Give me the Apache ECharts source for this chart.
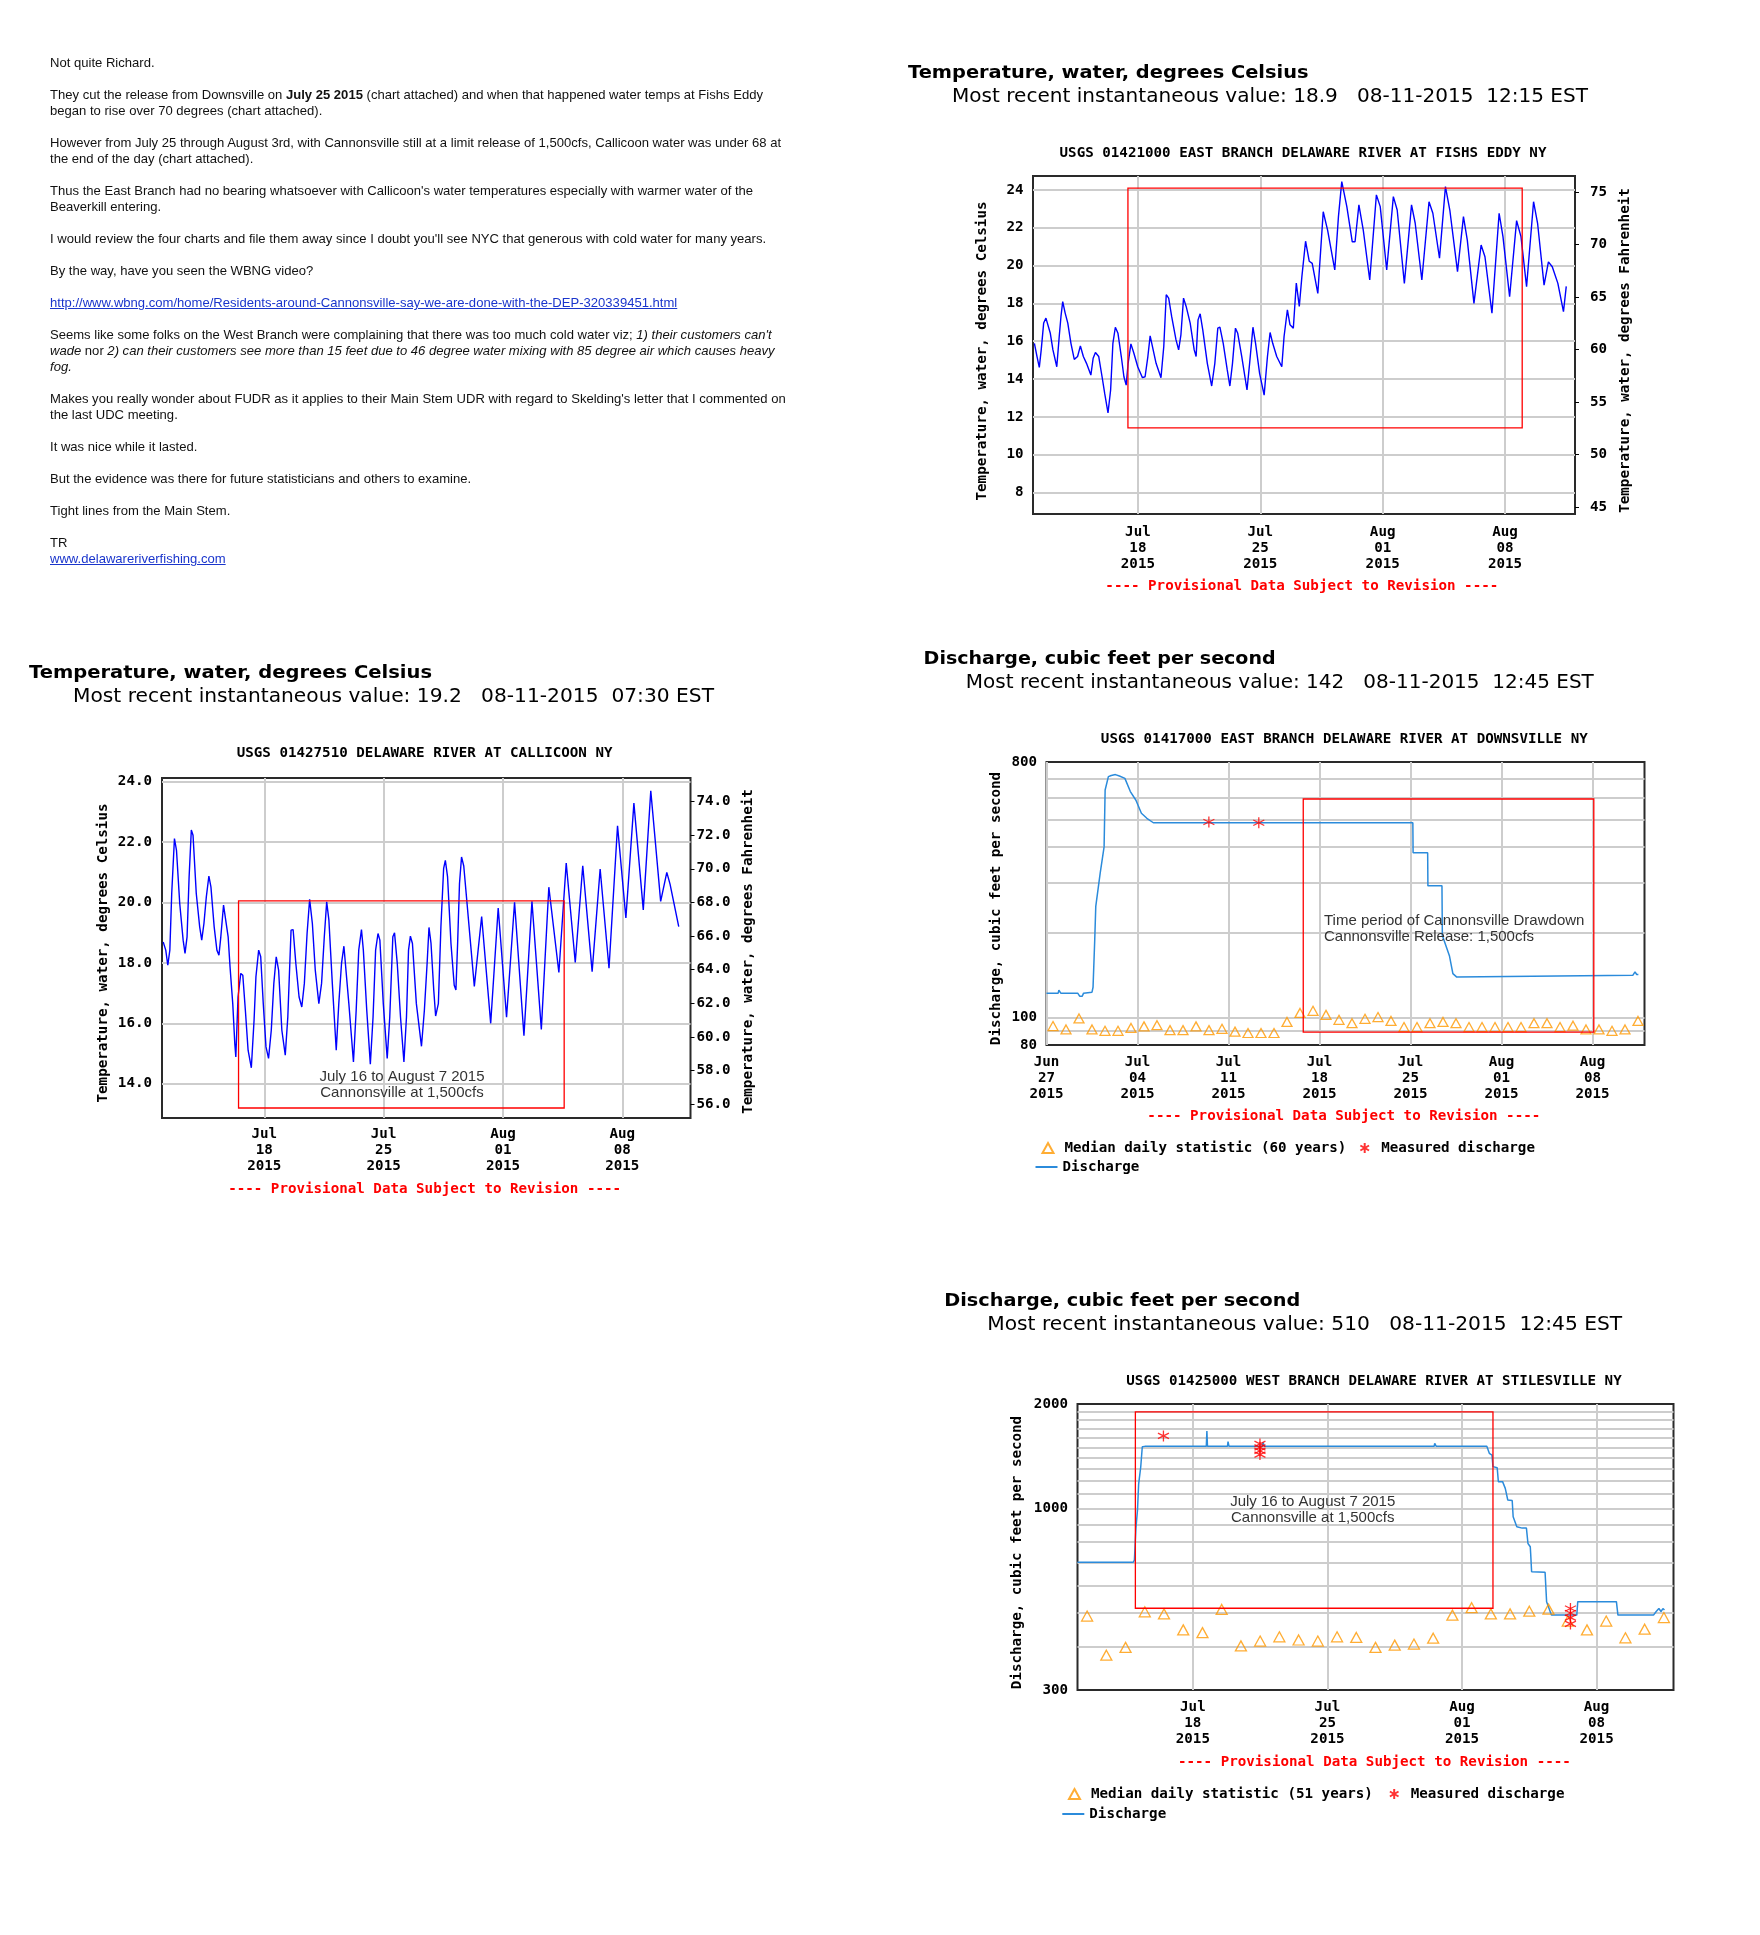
<!DOCTYPE html>
<html><head><meta charset="utf-8">
<script src="https://cdn.jsdelivr.net/npm/echarts@6/dist/echarts.min.js"></script>
<style>
html,body{margin:0;padding:0;background:#fff;overflow:hidden;width:1760px;height:1935px;}
#chart{position:absolute;left:0;top:0;width:1760px;height:1935px;}
#mail{position:absolute;left:50px;top:55px;font-family:"Liberation Sans",Arial,sans-serif;font-size:13px;line-height:16px;color:#111;transform-origin:0 0;z-index:5;}
#mail div{height:16px;white-space:pre;}
#mail a{color:#1a35cc;text-decoration:underline;}
</style></head><body>
<div id="chart"></div>
<div id="mail"><div>Not quite Richard.</div><div></div><div>They cut the release from Downsville on <b>July 25 2015</b> (chart attached) and when that happened water temps at Fishs Eddy</div><div>began to rise over 70 degrees (chart attached).</div><div></div><div>However from July 25 through August 3rd, with Cannonsville still at a limit release of 1,500cfs, Callicoon water was under 68 at</div><div>the end of the day (chart attached).</div><div></div><div>Thus the East Branch had no bearing whatsoever with Callicoon's water temperatures especially with warmer water of the</div><div>Beaverkill entering.</div><div></div><div>I would review the four charts and file them away since I doubt you'll see NYC that generous with cold water for many years.</div><div></div><div>By the way, have you seen the WBNG video?</div><div></div><div><a>http://www.wbng.com/home/Residents-around-Cannonsville-say-we-are-done-with-the-DEP-320339451.html</a></div><div></div><div>Seems like some folks on the West Branch were complaining that there was too much cold water viz; <i>1) their customers can't</i></div><div><i>wade</i> nor <i>2) can their customers see more than 15 feet due to 46 degree water mixing with 85 degree air which causes heavy</i></div><div><i>fog.</i></div><div></div><div id="refline">Makes you really wonder about FUDR as it applies to their Main Stem UDR with regard to Skelding's letter that I commented on</div><div>the last UDC meeting.</div><div></div><div>It was nice while it lasted.</div><div></div><div>But the evidence was there for future statisticians and others to examine.</div><div></div><div>Tight lines from the Main Stem.</div><div></div><div>TR</div><div><a>www.delawareriverfishing.com</a></div></div>
<script>
// ---------------- DATA ----------------
// Fishs Eddy water temperature: [days after 2015-07-12 00:00, deg C]
const fishsEddyTemp = [
[0.08,15.89],[0.23,15.19],[0.36,14.62],[0.47,15.54],[0.61,16.96],[0.74,17.22],[0.83,17.17],[0.99,16.42],[1.14,15.54],[1.36,14.65],
[1.5,16.25],[1.6,17.31],[1.7,18.1],[1.84,17.49],[1.99,16.96],[2.17,15.89],[2.36,15.04],[2.55,15.19],[2.71,15.75],[2.88,15.19],
[3.06,14.83],[3.31,14.21],[3.44,15.1],[3.57,15.4],[3.76,15.19],[3.95,14.12],[4.1,13.24],[4.29,12.21],[4.44,13.42],[4.57,15.89],
[4.71,16.74],[4.86,16.42],[5.05,15.19],[5.2,14.12],[5.33,13.68],[5.44,14.83],[5.6,15.86],[5.77,15.36],[5.99,14.65],[6.26,14.07],
[6.41,14.12],[6.57,15.19],[6.7,16.28],[6.79,16.25],[7.04,14.83],[7.32,14.07],[7.48,15.72],[7.62,18.46],[7.76,18.28],[7.93,17.31],
[8.18,16.07],[8.33,15.54],[8.46,16.34],[8.61,18.28],[8.76,17.84],[8.99,16.96],[9.22,15.54],[9.33,15.19],[9.44,17.13],[9.56,17.45],
[9.71,16.6],[9.97,14.83],[10.22,13.63],[10.4,14.83],[10.57,16.69],[10.69,16.74],[10.88,15.89],[11.11,14.48],[11.26,13.63],[11.41,14.83],
[11.58,16.69],[11.71,16.42],[11.94,15.19],[12.24,13.42],[12.39,14.83],[12.58,16.74],[12.73,15.89],[12.96,14.3],[13.22,13.15],[13.41,15.19],
[13.56,16.46],[13.71,15.89],[13.94,15.19],[14.23,14.65],[14.36,16.25],[14.55,17.66],[14.7,16.87],[14.89,16.69],[15.06,19.08],[15.23,17.84],
[15.38,19.43],[15.59,21.29],[15.8,20.23],[15.97,20.12],[16.29,18.53],[16.6,22.85],[16.85,21.88],[17.26,19.77],[17.47,22.59],[17.66,24.44],
[17.95,23.12],[18.26,21.26],[18.42,21.26],[18.64,23.21],[18.89,21.88],[19.26,19.24],[19.64,23.74],[19.86,23.12],[20.23,19.77],[20.61,23.65],
[20.83,22.94],[21.24,19.06],[21.65,23.21],[21.86,22.24],[22.24,19.24],[22.65,23.38],[22.87,22.77],[23.25,20.39],[23.59,24.18],[23.84,22.94],
[24.28,19.68],[24.62,22.59],[24.84,21.35],[25.22,18.0],[25.63,21.09],[25.85,20.47],[26.25,17.48],[26.66,22.77],[26.88,21.53],[27.26,18.35],
[27.66,22.38],[27.91,21.53],[28.23,18.88],[28.63,23.38],[28.86,22.24],[29.23,18.97],[29.48,20.2],[29.7,19.94],[30.02,19.06],[30.34,17.56],[30.5,18.9]
];
// Callicoon water temperature: [days after 2015-07-12 00:00, deg C]
const callicoonTemp = [
[0.07,18.69],[0.22,18.42],[0.34,17.92],[0.46,18.42],[0.57,20.29],[0.73,22.11],[0.85,21.72],[1.04,19.96],[1.24,18.75],[1.35,18.31],
[1.47,18.86],[1.59,20.84],[1.72,22.39],[1.82,22.22],[2.01,20.29],[2.21,19.19],[2.33,18.75],[2.46,19.3],[2.6,20.18],[2.75,20.87],
[2.87,20.51],[3.06,19.19],[3.22,18.42],[3.34,18.25],[3.45,18.86],[3.61,19.91],[3.72,19.85],[3.88,18.86],[3.99,17.87],[4.15,16.65],
[4.27,15.33],[4.33,14.89],[4.46,16.87],[4.62,17.65],[4.74,17.59],[4.89,16.43],[5.05,15.11],[5.24,14.53],[5.4,16.1],[5.51,17.54],
[5.67,18.42],[5.79,18.2],[5.94,16.65],[6.1,15.22],[6.25,14.84],[6.41,15.77],[6.56,17.32],[6.7,18.2],[6.84,17.76],[7.03,15.77],
[7.23,14.95],[7.38,16.21],[7.57,19.08],[7.69,19.1],[7.85,17.98],[8.04,16.87],[8.2,16.54],[8.35,17.32],[8.51,18.97],[8.66,20.1],
[8.82,19.3],[8.99,17.76],[9.2,16.65],[9.36,17.32],[9.52,18.86],[9.66,20.02],[9.79,19.41],[9.99,17.32],[10.22,15.11],[10.37,16.65],
[10.53,17.98],[10.67,18.55],[10.76,18.51],[10.96,16.65],[11.23,14.72],[11.39,16.43],[11.54,18.42],[11.7,19.1],[11.81,18.42],[12.01,16.43],
[12.22,14.65],[12.38,16.21],[12.53,18.42],[12.67,18.97],[12.78,18.75],[12.98,16.65],[13.21,14.84],[13.36,16.21],[13.54,18.86],[13.64,18.99],
[13.8,17.98],[13.99,16.21],[14.19,14.72],[14.34,16.21],[14.46,18.42],[14.57,18.88],[14.69,18.64],[14.92,16.65],[15.22,15.24],[15.39,16.43],
[15.55,17.98],[15.66,19.17],[15.78,18.64],[15.94,17.1],[16.05,16.24],[16.21,16.65],[16.36,19.19],[16.52,21.12],[16.62,21.39],[16.75,20.84],
[16.95,18.64],[17.14,17.26],[17.24,17.1],[17.34,18.64],[17.45,20.62],[17.57,21.5],[17.7,21.2],
[18.32,17.22],[18.75,19.53],[19.28,16.0],[19.72,19.81],[20.21,16.2],[20.68,20.0],[21.23,15.59],[21.7,20.03],[22.25,15.8],
[22.69,20.5],[23.28,17.68],[23.71,21.3],[24.24,18.01],[24.68,21.21],[25.23,17.71],[25.7,21.1],[26.22,17.82],[26.72,22.53],
[27.21,19.48],[27.68,23.28],[28.23,19.75],[28.67,23.69],[29.25,20.03],[29.61,20.99],[29.8,20.6],[30.31,19.2]
];
// Downsville discharge: [days after 2015-06-27 00:00, cfs]
const downsvilleFlow = [
[0,122],[0.9,122],[0.95,125],[1.1,122],[2.4,122],[2.55,119],[2.75,119],[2.85,122],[3.5,123],[3.58,128],
[3.71,188],[3.79,247],[4.13,324],[4.43,401],[4.51,637],[4.76,710],[4.98,717],[5.3,722],[5.61,714],[6.03,700],
[6.45,629],[6.88,586],[7.3,527],[7.72,506],[8.22,488],[28.18,488],[28.2,382],[29.32,382],[29.34,292],[30.42,292],
[30.45,195],[31.0,165],[31.26,143],[31.56,139],[31.65,141],[45.1,141],[45.27,145],[45.4,142],[45.53,142]
];
const downsvilleMeasured = [[12.49,491],[16.33,488]];
// median daily statistic (60 years), one value per day from 2015-06-27
const downsvilleMedian = [93.3,90.8,99.3,90.8,89.8,89.8,91.9,93.1,94.0,90.3,90.3,93.1,90.3,91.3,89.2,88.2,88.2,88.2,96.5,103.8,
105.7,102.2,98.2,95.5,99.0,100.4,97.3,92.6,92.6,95.5,96.5,95.5,92.6,92.6,92.6,92.6,92.6,95.5,95.5,92.6,93.6,90.8,90.8,89.8,90.8,97.3];
// Stilesville discharge: [days after 2015-07-12 00:00, cfs]
const stilesvilleFlow = [
[0,700],[0.85,700],[0.89,708],[0.93,700],[1.55,700],[1.58,708],[1.62,700],[2.37,700],[2.4,708],[2.44,700],
[2.9,700],[2.96,710],[3.04,878],[3.12,989],[3.18,1176],[3.29,1319],[3.37,1506],[3.5,1510],[6.7,1510],[6.73,1673],
[6.76,1510],[7.8,1510],[7.83,1558],[7.88,1510],[9.62,1510],[9.65,1550],[9.72,1510],[14.22,1510],[14.25,1529],[14.32,1510],
[18.55,1510],[18.58,1540],[18.66,1510],[21.29,1510],[21.42,1442],[21.56,1425],[21.61,1320],[21.83,1310],[21.89,1195],[22.11,1195],
[22.25,1143],[22.38,1058],[22.61,1055],[22.66,947],[22.85,886],[23.13,878],[23.35,878],[23.43,793],[23.55,776],[23.57,743],
[23.62,657],[24.32,655],[24.4,539],[24.65,493],[25.97,493],[26.02,539],[26.75,539],[26.79,546],[26.85,539],[28.03,539],
[28.11,493],[29.96,493],[30.1,505],[30.24,515],[30.35,505],[30.45,515],[30.53,510]
];
const stilesvilleMeasured = [[4.47,1618],[9.49,1535],[9.49,1500],[9.49,1465],[9.49,1430],[25.64,515],[25.64,500],[25.64,485],[25.64,465]];
// median daily statistic (51 years), one value per day from 2015-07-12
const stilesvilleMedian = [490,378,398,504,497,447,439,512,402,415,427,418,415,427,425,398,404,407,423,493,518,497,497,506,513,474,447,474,424,449,485];

// tick labels / grid values
const fishsTicksC = [8,10,12,14,16,18,20,22,24];
const fishsTicksF = [45,50,55,60,65,70,75];
const callTicksC = [14,16,18,20,22,24];
const callTicksF = [56,58,60,62,64,66,68,70,72,74];
const downsGrid = [90,100,200,300,400,500,600,700];
const stilesGrid = [400,500,600,700,800,900,1000,1100,1200,1300,1400,1500,1600,1700,1800,1900];
const julTickDates = ['2015-07-18','2015-07-25','2015-08-01','2015-08-08'];
const junTickDates = ['2015-06-27','2015-07-04','2015-07-11','2015-07-18','2015-07-25','2015-08-01','2015-08-08'];
// hand-drawn red boxes: [from day, from value], [to day, to value]
const fishsBox = [[5.43,11.42],[27.98,24.1]];
const callBox = [[4.49,13.2],[23.59,20.05]];
const downsBox = [[19.75,88.9],[42.1,592]];
const stilesBox = [[3.01,516],[21.61,1897]];

// ---------------- helpers ----------------
const DAY = 86400000;
const ts = s => { const [y,m,d] = s.split('-').map(Number); return new Date(y, m-1, d).getTime(); };
const JUL12 = ts('2015-07-12'), JUN27 = ts('2015-06-27'), AUG12 = ts('2015-08-12');
const at = (base, d) => base + d * DAY;
const MON = ['Jan','Feb','Mar','Apr','May','Jun','Jul','Aug','Sep','Oct','Nov','Dec'];
const fmtDate = v => { const d = new Date(v); return MON[d.getMonth()] + '\n' + String(d.getDate()).padStart(2,'0') + '\n' + d.getFullYear(); };
const mono = "'DejaVu Sans Mono','Liberation Mono',monospace";
const sans = "'DejaVu Sans',Verdana,sans-serif";
const arial = "'Liberation Sans',Arial,sans-serif";
const lbl = {fontFamily: mono, fontWeight: 'bold', fontSize: 14.2, color: '#000'};
const gridLine = {color: '#cdcdcd', width: 2, type: 'solid'};
const mctx = document.createElement('canvas').getContext('2d');
const measure = (t, f) => { mctx.font = f; return mctx.measureText(t).width; };

// email block width fit
(function(){
  const el = document.getElementById('refline');
  const w = measure(el.textContent, '13px "Liberation Sans", Arial');
  document.getElementById('mail').style.transform = 'scaleX(' + (735.7 / w) + ')';
})();

function gridCfg(left, top, width, height) {
  return {left, top, width, height, show: true, borderColor: '#2a2a2a', borderWidth: 2, backgroundColor: '#fff', containLabel: false, outerBoundsMode: 'none'};
}
function xCfg(gi, min, tickDates, margin) {
  const ticks = tickDates.map(ts);
  return {type: 'value', gridIndex: gi, min, max: AUG12, scale: true,
    axisLine: {show: false}, axisTick: {show: false, customValues: ticks},
    axisLabel: Object.assign({}, lbl, {customValues: ticks, margin, lineHeight: 16, formatter: fmtDate, hideOverlap: false, showMinLabel: true, showMaxLabel: true}),
    splitLine: {show: true, lineStyle: gridLine}};
}
function yLeft(gi, min, max, ticks, fmt, margin) {
  return {type: 'value', gridIndex: gi, position: 'left', min, max,
    axisLine: {show: false}, axisTick: {show: false, customValues: ticks},
    axisLabel: Object.assign({}, lbl, {customValues: ticks, margin, formatter: fmt}),
    splitLine: {show: true, lineStyle: gridLine}};
}
function yRight(gi, min, max, ticks, fmt, margin) {
  return {type: 'value', gridIndex: gi, position: 'right', min, max,
    axisLine: {show: false}, axisTick: {show: true, customValues: ticks, length: 4, lineStyle: {color: '#000', width: 1}},
    axisLabel: Object.assign({}, lbl, {customValues: ticks, margin, formatter: fmt}),
    splitLine: {show: false}};
}
function yLog(gi, min, max) {
  return {type: 'log', logBase: 10, gridIndex: gi, position: 'left', min, max,
    axisLine: {show: false}, axisTick: {show: false},
    axisLabel: Object.assign({}, lbl, {margin: 9.5, formatter: v => String(Math.round(v))}),
    splitLine: {show: false}};
}
function boxArea(base, box) {
  return {silent: true, z: 6, label: {show: false},
    itemStyle: {color: 'rgba(0,0,0,0)', borderColor: '#ff0000', borderWidth: 1.3},
    data: [[{xAxis: at(base, box[0][0]), yAxis: box[0][1]}, {xAxis: at(base, box[1][0]), yAxis: box[1][1]}]]};
}
const asterisk = 'path://M5,0L5,10M0.67,2.5L9.33,7.5M0.67,7.5L9.33,2.5';

// ---------------- texts ----------------
const G = [];
function txt(x, y, text, o) {
  const style = {text, fontFamily: o.ff, fontSize: o.fs, fontWeight: o.fw || 'normal', fill: o.fill || '#000',
    align: o.align || 'left', verticalAlign: 'middle', textAlign: o.align || 'left', textVerticalAlign: 'middle'};
  G.push({type: 'text', x, y, rotation: o.rot || 0, scaleX: o.sx || 1, silent: true, z: 10, style});
}
function fitTxt(x, y, text, w, fs, fw) {
  const sx = w / measure(text, fw + ' ' + fs + 'px "DejaVu Sans"');
  txt(x, y, text, {ff: sans, fs, fw, sx});
}
const H1 = 'Temperature, water, degrees Celsius', H2 = 'Discharge, cubic feet per second';
fitTxt(908, 73, H1, 400.5, 18, 'bold');
fitTxt(952, 97, 'Most recent instantaneous value: 18.9   08-11-2015  12:15 EST', 636, 19, 'normal');
fitTxt(29, 673, H1, 403, 18, 'bold');
fitTxt(73, 697, 'Most recent instantaneous value: 19.2   08-11-2015  07:30 EST', 641, 19, 'normal');
fitTxt(923.6, 659, H2, 352, 18, 'bold');
fitTxt(965.8, 683, 'Most recent instantaneous value: 142   08-11-2015  12:45 EST', 628, 19, 'normal');
fitTxt(944.3, 1301, H2, 356, 18, 'bold');
fitTxt(987.2, 1325, 'Most recent instantaneous value: 510   08-11-2015  12:45 EST', 635, 19, 'normal');

const M = {ff: mono, fs: 14.2, fw: 'bold', align: 'center'};
txt(1303, 153, 'USGS 01421000 EAST BRANCH DELAWARE RIVER AT FISHS EDDY NY', M);
txt(424.6, 753, 'USGS 01427510 DELAWARE RIVER AT CALLICOON NY', M);
txt(1344.3, 739, 'USGS 01417000 EAST BRANCH DELAWARE RIVER AT DOWNSVILLE NY', M);
txt(1374, 1381, 'USGS 01425000 WEST BRANCH DELAWARE RIVER AT STILESVILLE NY', M);
const P = Object.assign({}, M, {fill: '#ff0000'});
const PROV = '---- Provisional Data Subject to Revision ----';
txt(1301.8, 586, PROV, P); txt(424.6, 1189, PROV, P); txt(1343.8, 1116, PROV, P); txt(1374.4, 1762, PROV, P);
const R = Object.assign({}, M, {rot: Math.PI / 2});
txt(982.3, 351, 'Temperature, water, degrees Celsius', R);
txt(1625.2, 350.5, 'Temperature, water, degrees Fahrenheit', R);
txt(103, 953, 'Temperature, water, degrees Celsius', R);
txt(748.8, 951.5, 'Temperature, water, degrees Fahrenheit', R);
txt(996, 908.5, 'Discharge, cubic feet per second', R);
txt(1017.3, 1552.5, 'Discharge, cubic feet per second', R);
const A = {ff: arial, fs: 15, fill: '#333', align: 'center'};
txt(402, 1077, 'July 16 to August 7 2015', A);
txt(402, 1093, 'Cannonsville at 1,500cfs', A);
txt(1312.7, 1502, 'July 16 to August 7 2015', A);
txt(1312.7, 1518, 'Cannonsville at 1,500cfs', A);
const AL = Object.assign({}, A, {align: 'left'});
txt(1324, 921, 'Time period of Cannonsville Drawdown', AL);
txt(1324, 937, 'Cannonsville Release: 1,500cfs', AL);

// ---------------- chart ----------------
const legendText = {fontFamily: mono, fontWeight: 'bold', fontSize: 14.2, color: '#000', lineHeight: 14};
const legendRow1 = {orient: 'horizontal', padding: 0, itemWidth: 11, itemHeight: 10, selectedMode: false,
  textStyle: Object.assign({}, legendText, {padding: [0, 0, 0, 6]})};
const legendRow2 = {orient: 'horizontal', padding: 0, itemWidth: 22, itemHeight: 2, selectedMode: false, textStyle: legendText};
const medStyle = {color: 'rgba(0,0,0,0)', borderColor: '#ff9900', borderWidth: 1.3};
const measStyle = {color: 'rgba(0,0,0,0)', borderColor: '#ff0000', borderWidth: 1.3};
const flowColor = '#2b8bdb';

const option = {
  animation: false,
  backgroundColor: '#ffffff',
  grid: [gridCfg(1033, 176, 542, 338), gridCfg(162, 778, 528.5, 340), gridCfg(1046.5, 762, 598, 283), gridCfg(1077.5, 1404, 596, 286)],
  xAxis: [xCfg(0, JUL12, julTickDates, 10), xCfg(1, JUL12, julTickDates, 8), xCfg(2, JUN27, junTickDates, 9), xCfg(3, JUL12, julTickDates, 9)],
  yAxis: [
    yLeft(0, 6.86, 24.74, fishsTicksC, v => String(v), 9.5),
    yRight(0, 44.35, 76.53, fishsTicksF, v => String(v), 15),
    yLeft(1, 12.87, 24.11, callTicksC, v => v.toFixed(1), 10),
    yRight(1, 55.17, 75.40, callTicksF, v => v.toFixed(1), 6),
    yLog(2, 80, 800),
    yLog(3, 300, 2000)
  ],
  legend: [
    Object.assign({}, legendRow1, {left: 1041.5, top: 1141, itemGap: 13, data: ['Median daily statistic (60 years)', 'Measured discharge']}),
    Object.assign({}, legendRow2, {left: 1035.5, top: 1160, data: [{name: 'Discharge', icon: 'rect'}]}),
    Object.assign({}, legendRow1, {left: 1068, top: 1787, itemGap: 16, data: ['Median daily statistic (51 years)', 'Measured discharge']}),
    Object.assign({}, legendRow2, {left: 1062.3, top: 1807, data: [{name: 'Discharge', icon: 'rect'}]})
  ],
  graphic: {elements: G},
  series: [
    {name: 'Fishs Eddy temperature', type: 'line', xAxisIndex: 0, yAxisIndex: 0, symbol: 'none', z: 3,
      lineStyle: {color: '#0000ff', width: 1.4}, data: fishsEddyTemp.map(p => [at(JUL12, p[0]), p[1]]),
      markArea: boxArea(JUL12, fishsBox)},
    {name: 'Callicoon temperature', type: 'line', xAxisIndex: 1, yAxisIndex: 2, symbol: 'none', z: 3,
      lineStyle: {color: '#0000ff', width: 1.4}, data: callicoonTemp.map(p => [at(JUL12, p[0]), p[1]]),
      markArea: boxArea(JUL12, callBox)},
    {name: 'downs grid', type: 'line', xAxisIndex: 2, yAxisIndex: 4, data: [], silent: true, z: 1,
      markLine: {silent: true, z: 1, symbol: ['none', 'none'], label: {show: false}, lineStyle: gridLine, emphasis: {disabled: true},
        data: downsGrid.map(v => ({yAxis: v}))}},
    {name: 'Median daily statistic (60 years)', type: 'scatter', xAxisIndex: 2, yAxisIndex: 4, symbol: 'triangle', symbolSize: [10, 9], z: 4,
      itemStyle: medStyle, data: downsvilleMedian.map((v, i) => [at(JUN27, i + 0.5), v])},
    {name: 'Discharge', type: 'line', xAxisIndex: 2, yAxisIndex: 4, symbol: 'none', z: 3,
      lineStyle: {color: flowColor, width: 1.5}, itemStyle: {color: flowColor}, data: downsvilleFlow.map(p => [at(JUN27, p[0]), p[1]]),
      markArea: boxArea(JUN27, downsBox)},
    {name: 'Measured discharge', type: 'scatter', xAxisIndex: 2, yAxisIndex: 4, symbol: asterisk, symbolSize: 11, z: 5,
      itemStyle: measStyle, data: downsvilleMeasured.map(p => [at(JUN27, p[0]), p[1]])},
    {name: 'stiles grid', type: 'line', xAxisIndex: 3, yAxisIndex: 5, data: [], silent: true, z: 1,
      markLine: {silent: true, z: 1, symbol: ['none', 'none'], label: {show: false}, lineStyle: gridLine, emphasis: {disabled: true},
        data: stilesGrid.map(v => ({yAxis: v}))}},
    {name: 'Median daily statistic (51 years)', type: 'scatter', xAxisIndex: 3, yAxisIndex: 5, symbol: 'triangle', symbolSize: [11, 10], z: 4,
      itemStyle: medStyle, data: stilesvilleMedian.map((v, i) => [at(JUL12, i + 0.5), v])},
    {name: 'Discharge', type: 'line', xAxisIndex: 3, yAxisIndex: 5, symbol: 'none', z: 3,
      lineStyle: {color: flowColor, width: 1.5}, itemStyle: {color: flowColor}, data: stilesvilleFlow.map(p => [at(JUL12, p[0]), p[1]]),
      markArea: boxArea(JUL12, stilesBox)},
    {name: 'Measured discharge', type: 'scatter', xAxisIndex: 3, yAxisIndex: 5, symbol: asterisk, symbolSize: 11, z: 5,
      itemStyle: measStyle, data: stilesvilleMeasured.map(p => [at(JUL12, p[0]), p[1]])}
  ]
};
const chart = echarts.init(document.getElementById('chart'), null, {renderer: 'canvas'});
chart.setOption(option);
</script>
</body></html>
